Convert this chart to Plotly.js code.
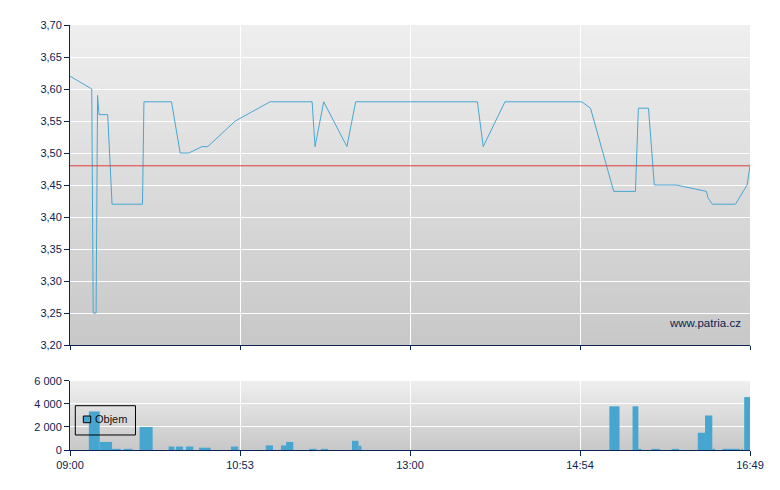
<!DOCTYPE html>
<html>
<head>
<meta charset="utf-8">
<script src="https://cdn.plot.ly/plotly-3.0.1.min.js"></script>
<style>html,body{margin:0;padding:0;background:#fff;}#chart{width:780px;height:490px;}</style>
</head>
<body>
<div id="chart"></div>
<script>
// ---- data ----
const priceTimes = ['09:00','09:15','09:16','09:18','09:19','09:20','09:26','09:29','09:50','09:51',
  '10:10','10:16','10:22','10:31','10:35','10:54','11:18','11:47','11:49','11:55','12:11','12:17',
  '13:41','13:45','14:00','14:53','14:59','15:15','15:30','15:32','15:39','15:43','15:58','16:19',
  '16:20','16:23','16:39','16:47','16:49'];
const prices = [3.62,3.60,3.25,3.25,3.59,3.56,3.56,3.42,3.42,3.58,
  3.58,3.50,3.50,3.51,3.51,3.55,3.58,3.58,3.51,3.58,3.51,3.58,
  3.58,3.51,3.58,3.58,3.57,3.44,3.44,3.57,3.57,3.45,3.45,3.44,
  3.43,3.42,3.42,3.45,3.48];
const refLevel = 3.48;

const volStart = ['09:13','09:20:30','09:29','09:37','09:48','10:08','10:13','10:20','10:29','10:51',
  '11:15','11:25:30','11:29','11:45','11:53','12:14:30','12:19','15:12','15:28','15:32','15:41',
  '15:55','16:13','16:18','16:23','16:30','16:43','16:45'];
const volEnd = ['09:20:30','09:29','09:35','09:43','09:57','10:12','10:18','10:25','10:37','10:56',
  '11:20','11:29','11:34','11:50','11:58','12:19','12:21','15:19','15:32','15:34','15:47',
  '16:00','16:18','16:23','16:25','16:42','16:44','16:49'];
const volumes = [3350,700,100,100,2000,300,300,300,200,300,
  400,400,700,100,100,800,370,3800,3800,100,100,
  100,1500,3000,100,100,100,4600];

const sessionStart = '09:00';
const sessionEnd = '16:49';
const tickLabels = ['09:00','10:53','13:00','14:54','16:49'];
const seriesName = 'Objem';
const watermark = 'www.patria.cz';

// ---- helpers ----
function toMin(s){ const p = s.split(':').map(Number); return (p[0]-9)*60 + p[1] + (p[2]||0)/60; }
function grad(top, bottom){
  const c = document.createElement('canvas'); c.width = 2; c.height = 256;
  const g = c.getContext('2d');
  const lg = g.createLinearGradient(0,0,0,256);
  lg.addColorStop(0, top); lg.addColorStop(1, bottom);
  g.fillStyle = lg; g.fillRect(0,0,2,256);
  return c.toDataURL();
}

const x0 = toMin(sessionStart), x1 = toMin(sessionEnd);
const tickVals = tickLabels.map((_, i) => x0 + i*(x1-x0)/(tickLabels.length-1));
const px = priceTimes.map(toMin);
const vs = volStart.map(toMin), ve = volEnd.map(toMin);
const vx = vs.map((s,i) => (s+ve[i])/2);
const vw = vs.map((s,i) => ve[i]-s);

const navy = '#0b2452';
const blue = '#48a7d1';
const font = {family: 'Liberation Sans, Arial, sans-serif', size: 11, color: navy};
const topDom = [0.247, 1], botDom = [0, 0.1624];

const traces = [
  {type:'scatter', mode:'lines', x: px, y: prices, xaxis:'x', yaxis:'y',
   line:{color: blue, width: 1}, showlegend:false, hoverinfo:'x+y'},
  {type:'bar', x: vx, y: volumes, width: vw, xaxis:'x2', yaxis:'y2', name: seriesName,
   marker:{color: '#46a6cf', line:{width:0}}, showlegend:false}
];

const axisCommon = {showline:true, linecolor:navy, linewidth:1, ticks:'outside', tickcolor:navy,
  ticklen:5, tickwidth:1, gridcolor:'#ffffff', gridwidth:1, zeroline:false, tickfont:font};

const layout = {
  width:780, height:490, margin:{l:70, r:30, t:25, b:40},
  paper_bgcolor:'#ffffff', plot_bgcolor:'rgba(0,0,0,0)',
  separators:', ', font: font, showlegend:false,
  xaxis: Object.assign({}, axisCommon, {range:[x0,x1], anchor:'y', tickvals: tickVals, ticktext: tickLabels,
    showticklabels:false, showgrid:true, ticklen:4}),
  xaxis2: Object.assign({}, axisCommon, {range:[x0,x1], anchor:'y2', matches:'x', tickvals: tickVals,
    ticktext: tickLabels, showgrid:true, ticklen:5}),
  yaxis: Object.assign({}, axisCommon, {domain: topDom, range:[3.2,3.7], dtick:0.05, tick0:3.2,
    tickformat:'.2f', anchor:'x', ticklen:5}),
  yaxis2: Object.assign({}, axisCommon, {domain: botDom, range:[0,6000], dtick:2000, tick0:0,
    tickformat:',d', anchor:'x2', ticklen:5}),
  images: [
    {source: grad('#efefef','#c8c8c8'), xref:'paper', yref:'paper', x:0, y:topDom[1], sizex:1,
     sizey: topDom[1]-topDom[0], xanchor:'left', yanchor:'top', sizing:'stretch', layer:'below'},
    {source: grad('#efefef','#c8c8c8'), xref:'paper', yref:'paper', x:0, y:botDom[1], sizex:1,
     sizey: botDom[1]-botDom[0], xanchor:'left', yanchor:'top', sizing:'stretch', layer:'below'}
  ],
  shapes: [
    {type:'line', xref:'x domain', yref:'y', x0:0, x1:1, y0:refLevel, y1:refLevel,
     line:{color:'#e23b3b', width:1}, layer:'above'},
    // legend box
    {type:'rect', xref:'paper', yref:'paper', x0:0.0078, x1:0.0963, y0:0.0353, y1:0.1042,
     line:{color:'#000000', width:1}, fillcolor:'rgba(0,0,0,0)'},
    {type:'rect', xref:'paper', yref:'paper', x0:0.0196, x1:0.0304, y0:0.0642, y1:0.08,
     line:{color:'#000000', width:1}, fillcolor:'#46a6cf'}
  ],
  annotations: [
    {text: seriesName, xref:'paper', yref:'paper', x:0.0343, y:0.0718, xanchor:'left', yanchor:'middle',
     showarrow:false, font:{family:font.family, size:11, color:'#111111'}},
    {text: watermark, xref:'paper', yref:'paper', x:0.9897, y:0.2988, xanchor:'right', yanchor:'middle',
     showarrow:false, font:{family:font.family, size:11.5, color:navy}}
  ]
};

Plotly.newPlot('chart', traces, layout, {displayModeBar:false, staticPlot:true});
</script>
</body>
</html>
